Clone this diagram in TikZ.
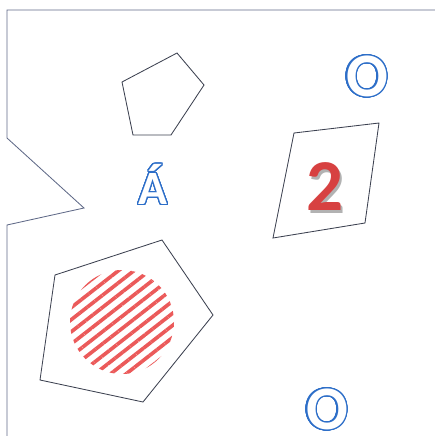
\documentclass[tikz,border=0pt]{standalone}
\usepackage{fontspec}
\setmainfont{Carlito}
\usepackage[copies]{contour}
\usepackage{tikz}
\usetikzlibrary{patterns.meta}
\definecolor{letterblue}{RGB}{45,110,200}
\definecolor{digitred}{RGB}{215,65,65}
\definecolor{hatchred}{RGB}{235,90,90}
\definecolor{edgegray}{RGB}{60,65,80}
\definecolor{framegray}{RGB}{95,105,135}
\contourlength{0.9pt}
\contournumber{32}

\begin{document}
\begin{tikzpicture}[
    x=0.025cm, y=-0.025cm,
    edge/.style={draw=edgegray, line width=0.6pt, line join=miter},
    hollow/.style={font=\bfseries\fontsize{44}{44}\selectfont, inner sep=0pt},
    hatch/.style={pattern={Lines[angle=38, distance=6.8pt, line width=2.6pt]}, pattern color=hatchred}
]
    \useasboundingbox (0,0) rectangle (435,436);
    % outer frame
    \draw[edge, draw=framegray] (435,10) -- (7,10) -- (7,138) -- (84,208) -- (7,225) -- (7,436);

    \draw[edge] (122,82) -- (177,53) -- (204,85) -- (171,135) -- (133,135) -- cycle;
    \draw[edge] (294,133) -- (379,123) -- (365,223) -- (273,238) -- cycle;
    \draw[edge] (55,275) -- (162,240) -- (213,315) -- (143,402) -- (40,380) -- cycle;

    \fill[hatch] (122,322) circle (52);

    \node[hollow] (otop) at (367,77) {\contour{letterblue}{\textcolor{white}{O}}};
    \node[hollow] (obot) at (327,410) {\contour{letterblue}{\textcolor{white}{O}}};
    \node[hollow, font=\bfseries\fontsize{34}{34}\selectfont] (aacute) at (153,185) {\contour{letterblue}{\textcolor{white}{Á}}};

    \node[inner sep=0pt, font=\bfseries\fontsize{52}{52}\selectfont] (two) at (325,188)
        {\makebox[0pt][l]{\hspace{1.2pt}\raisebox{-1.8pt}{\textcolor{black!30}{2}}}\textcolor{digitred}{2}};
\end{tikzpicture}
\end{document}
